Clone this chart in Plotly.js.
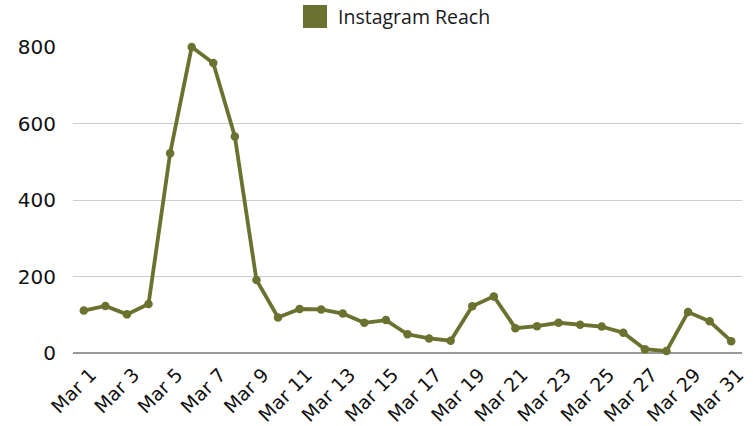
<!DOCTYPE html>
<html>
<head>
<meta charset="utf-8">
<script src="https://cdn.plot.ly/plotly-3.0.1.min.js"></script>
<style>html,body{margin:0;padding:0;background:#fff;}#chart{width:753px;height:426px;}</style>
</head>
<body>
<div id="chart"></div>
<script>
const days = ["Mar 1","Mar 2","Mar 3","Mar 4","Mar 5","Mar 6","Mar 7","Mar 8","Mar 9","Mar 10",
  "Mar 11","Mar 12","Mar 13","Mar 14","Mar 15","Mar 16","Mar 17","Mar 18","Mar 19","Mar 20",
  "Mar 21","Mar 22","Mar 23","Mar 24","Mar 25","Mar 26","Mar 27","Mar 28","Mar 29","Mar 30","Mar 31"];
const reach = [111,123,101,128,522,800,758,566,191,93,
  115,114,103,79,86,49,38,32,122,148,
  65,70,79,74,69,53,10,5,107,83,31];
const yTicks = [0,200,400,600,800];
const seriesName = "Instagram Reach";
const olive = "#6B712E";

const trace = {
  type: "scatter",
  mode: "lines+markers",
  x: days,
  y: reach,
  name: seriesName,
  line: {color: olive, width: 3.8},
  marker: {color: olive, size: 8.5},
  cliponaxis: false,
  showlegend: false
};

const layout = {
  width: 753, height: 426,
  margin: {l: 73, r: 11, t: 47, b: 73},
  paper_bgcolor: "#fff", plot_bgcolor: "#fff",
  showlegend: false,
  font: {family: "DejaVu Sans, sans-serif", color: "#111"},
  xaxis: {
    type: "category",
    range: [-0.5, 30.5],
    tickmode: "array",
    tickvals: days.filter((d, i) => i % 2 === 0),
    ticktext: days.filter((d, i) => i % 2 === 0),
    tickangle: -45,
    tickfont: {size: 19, color: "#111"},
    ticklabelstandoff: 6,
    ticklabelshift: 7,
    showgrid: false,
    showline: false,
    zeroline: false,
    ticks: ""
  },
  yaxis: {
    range: [0, 800],
    tickvals: yTicks,
    tickfont: {size: 20, color: "#111"},
    showgrid: true,
    gridcolor: "#cccccc",
    gridwidth: 1,
    zeroline: true,
    zerolinecolor: "#999999",
    zerolinewidth: 1.5,
    showline: false,
    ticklabelstandoff: 16,
    fixedrange: true
  },
  shapes: [{
    type: "rect", xref: "paper", yref: "paper",
    x0: (303 - 73) / 669, x1: (327 - 73) / 669,
    y0: 1 + (47 - 5) / 306, y1: 1 + (47 - 28) / 306,
    fillcolor: olive, line: {width: 0}
  }],
  annotations: [{
    xref: "paper", yref: "paper",
    x: (336 - 73) / 669, y: 1 + (47 - 16.5) / 306,
    xanchor: "left", yanchor: "middle",
    text: seriesName, showarrow: false,
    font: {family: "Open Sans, Noto Sans, sans-serif", size: 19.5, color: "#1a1a1a"}
  }]
};

Plotly.newPlot("chart", [trace], layout, {displayModeBar: false, staticPlot: true});
</script>
</body>
</html>
